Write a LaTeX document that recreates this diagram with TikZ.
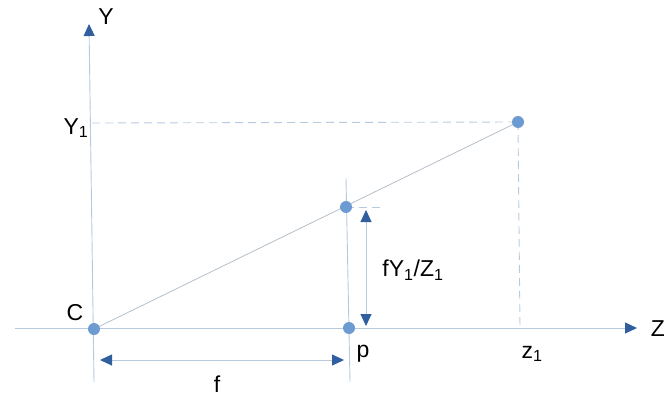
\documentclass[tikz,border=0pt]{standalone}
\usepackage{fontspec}
\setmainfont{Liberation Sans}
\usetikzlibrary{arrows.meta}
\definecolor{axisc}{HTML}{B7C9DD}
\definecolor{dotc}{HTML}{6C9BD2}
\definecolor{arrc}{HTML}{2F5F9F}
\definecolor{rayc}{HTML}{B5BFCB}
\definecolor{dashc}{HTML}{B7CBE0}
\tikzset{
  axis/.style={draw=axisc, line width=0.9pt},
  ray/.style={draw=rayc, line width=0.8pt},
  guide/.style={draw=dashc, line width=0.9pt, dash pattern=on 8pt off 5pt},
  tip/.style={-{Triangle[length=12pt,width=11pt,fill=arrc,color=arrc]}},
  dtip/.style={{Triangle[length=12pt,width=11pt,fill=arrc,color=arrc]}-{Triangle[length=12pt,width=11pt,fill=arrc,color=arrc]}},
  pt/.style={circle, fill=dotc, inner sep=0pt, minimum size=12pt},
  lbl/.style={font=\fontsize{23}{27}\selectfont, inner sep=0pt, text=black},
}
\newcommand{\subone}{\textsubscript{1}}
\begin{document}
\begin{tikzpicture}[x=1pt, y=-1pt]
\useasboundingbox (0,0) rectangle (664,396);
% coordinates
\coordinate (ybot) at (94,382);
\coordinate (ytop) at (89,24);
\coordinate (zl) at (15,328);
\coordinate (zr) at (637,328);
\coordinate (ptop) at (346,178);
\coordinate (pbot) at (350,382);
\coordinate (y1l) at (92,123);
\coordinate (z1b) at (520,328);
\coordinate (dashend) at (380,207);
\coordinate (ha) at (366,210);
\coordinate (hb) at (366,326);
\coordinate (fa) at (100,360);
\coordinate (fb) at (344,360);
% axes
\draw[axis, tip] (ybot) -- (ytop);
\draw[axis, tip] (zl) -- (zr);
\draw[axis] (ptop) -- (pbot);
% guides
\draw[guide] (y1l) -- (518,122);
\draw[guide] (518,122) -- (z1b);
\draw[guide] (346,207) -- (dashend);
% ray
\draw[ray] (94,329) -- (518,122);
% points
\node[pt] (C) at (94,329) {};
\node[pt] (P) at (349,328) {};
\node[pt] (Q) at (346,207) {};
\node[pt] (R) at (518,122) {};
% arrows
\draw[axis, dtip] (ha) -- (hb);
\draw[axis, dtip] (fa) -- (fb);
% labels
\node[lbl] (Ylab) at (106,17) {Y};
\node[lbl] (Zlab) at (658,329) {Z};
\node[lbl] (Clab) at (75,313) {C};
\node[lbl] (Y1lab) at (76,128) {Y\subone};
\node[lbl] (plab) at (363,354) {p};
\node[lbl] (z1lab) at (532,354) {z\subone};
\node[lbl] (flab) at (217,384) {f};
\node[lbl] (frac) at (413,270) {fY\subone/Z\subone};
\end{tikzpicture}
\end{document}
